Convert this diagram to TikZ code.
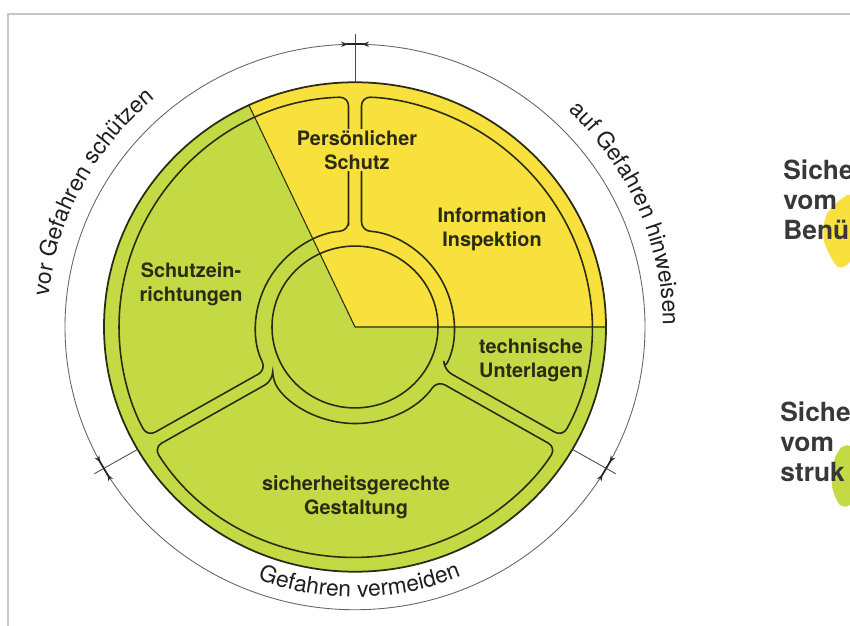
\documentclass[tikz,border=0pt]{standalone}
\usepackage{fontspec}
\setmainfont{TeX Gyre Heros}
\usetikzlibrary{arrows.meta,decorations.text}
\definecolor{yel}{HTML}{F8E13C}
\definecolor{grn}{HTML}{C4DA45}
\definecolor{ink}{HTML}{2B2A12}
\tikzstyle{seg} = [draw=ink,line width=0.9pt,rounded corners=5pt]
\tikzstyle{lab} = [font=\bfseries\fontsize{11.3}{13.5}\selectfont,align=center,text=ink,inner sep=1pt]
\tikzstyle{side} = [font=\bfseries\fontsize{15}{17}\selectfont,align=left,text=black!78,anchor=west,inner sep=0pt]

\begin{document}
\begin{tikzpicture}[x=0.02cm,y=0.02cm,
  rim/.style={draw=black!60,line width=0.5pt},
  tick/.style={draw=black!70,line width=0.5pt},
  mk/.style={draw=black!85,line width=1pt,arrows={Stealth[reversed,length=4pt,width=3pt]-Stealth[reversed,length=4pt,width=3pt]}},
  ring/.style={postaction={decorate},decoration={text along path,text align=center,text color=black!88,text={|\fontsize{13}{15}\selectfont|#1}}}]
\useasboundingbox (0,0) rectangle (850,626);
\draw [gray!45,line width=1.1pt] (8,0) -- (8,612) -- (850,612);
\begin{scope}[shift={(355,299)},yscale=0.975]
\fill [grn] (0,0) circle (251);
\fill [yel] (0,0) -- (0:251) arc[start angle=0,end angle=115,radius=251] -- cycle;
\draw [ink,line width=0.6pt] (0:251) -- (0,0) -- (115:251);
\draw [ink,line width=1pt] (0,0) circle (251);
\draw [ink,line width=0.9pt] (0,0) circle (83);
\foreach \a in {-30,90,210}
  \draw [seg] (\a+3.76:99) -- (\a+1.58:236) arc[start angle=\a+1.58,end angle=\a+118.42,radius=236]
    -- (\a+116.24:99) arc[start angle=\a+116.24,end angle=\a+3.76,radius=99] -- cycle;
\draw [rim] (0,0) circle (290);
\foreach \t in {90,210,330} {
  \draw [tick] (\t:251) -- (\t:301);
  \draw [mk,rotate=\t] (290,-14) -- (290,14);
}
\path [ring={vor Gefahren schützen}] (200:308) arc[start angle=200,end angle=105,radius=308];
\path [ring={auf Gefahren hinweisen}] (70:308) arc[start angle=70,end angle=-24,radius=308];
\path [ring={Gefahren vermeiden}] (225:277) arc[start angle=225,end angle=317,radius=277];
\end{scope}

\node [lab,fill=yel] (persSchutz) at (357,476) {Persönlicher\\Schutz};
\node [lab] (infoInsp) at (492,397) {Information\\Inspektion};
\node [lab] (schutzEinr) at (191,342) {Schutzein-\\richtungen};
\node [lab] (techUnterl) at (531,266) {technische\\Unterlagen};
\node [lab] (sichGest) at (356,129) {sicherheitsgerechte\\Gestaltung};

\fill [yel] plot[smooth cycle] coordinates {(840,426) (852,428) (852,370) (838,359) (824,385) (826,410)};
\fill [grn] plot[smooth cycle] coordinates {(842,179) (852,176) (852,125) (840,121) (832,140) (834,165)};
\node [side] (sichBen) at (783,426) {Siche\\vom\\Benü};
\node [side] (sichKon) at (780,184) {Siche\\vom\\struk};
\end{tikzpicture}
\end{document}
